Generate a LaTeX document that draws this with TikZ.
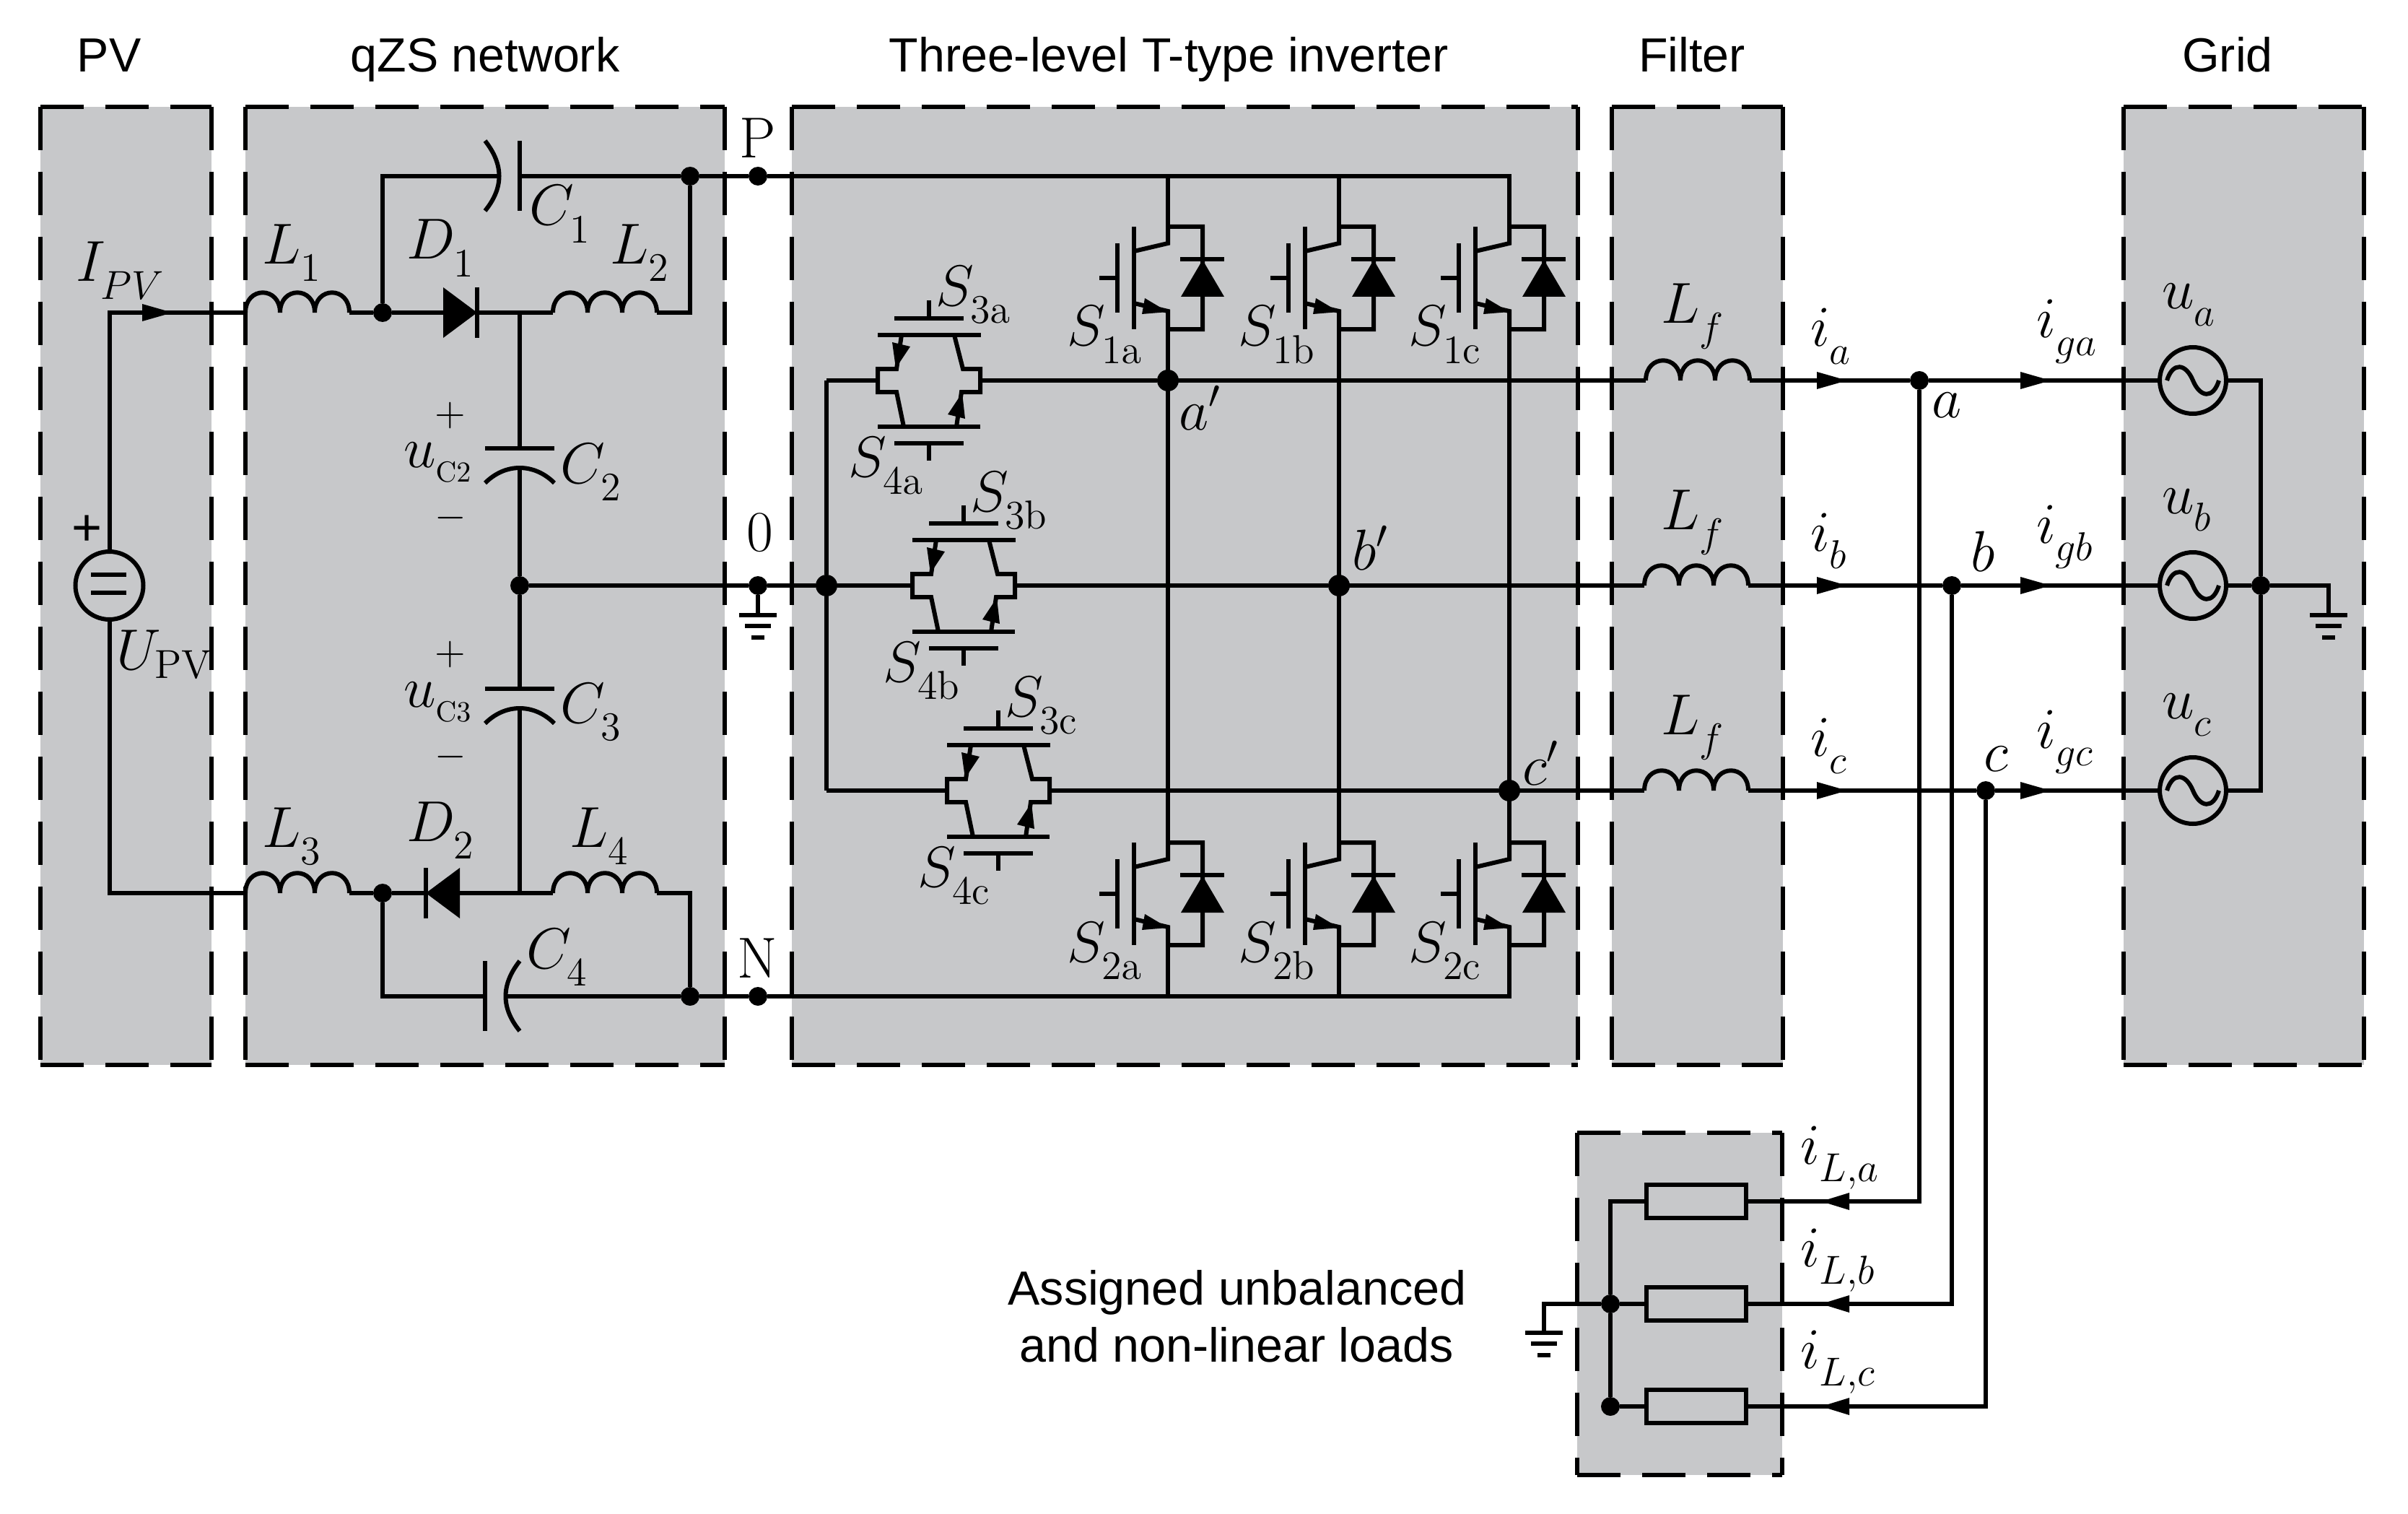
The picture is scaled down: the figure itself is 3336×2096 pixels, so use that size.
\RequirePackage{fix-cm}
\documentclass[tikz,border=0pt]{standalone}
\usepackage[no-math]{fontspec}
\newfontfamily\arial{Liberation Sans}
\definecolor{boxgrey}{RGB}{199,200,202}
\newcommand\dn[1]{\lower3pt\hbox{$\scriptstyle #1$}}
\newcommand\dnn[1]{\lower2pt\hbox{$\scriptscriptstyle #1$}}
\newcommand\gbox[4]{%
  \fill[boxgrey] (#1,#2) rectangle (#3,#4);
  \draw[boxline] (#1,#2) -- (#1,#4);
  \draw[boxline] (#3,#2) -- (#3,#4);
  \draw[boxline] (#1,#2) -- (#3,#2);
  \draw[boxline] (#1,#4) -- (#3,#4);}
\newcommand\lab[4]{\node[lab] (#1) at (#2,#3) {$#4$};}
\tikzset{
  x=0.25pt,y=-0.25pt,
  wire/.style={line width=1.5pt,line join=miter},
  boxline/.style={line width=1.4pt,dash pattern=on 15pt off 7.5pt},
  dot/.style={circle,fill=black,inner sep=0pt,outer sep=0pt,minimum size=6.5pt},
  bigdot/.style={dot,minimum size=7.5pt},
  lab/.style={anchor=base west,xshift=-1pt,inner sep=0pt,outer sep=0pt,font=\fontsize{20}{24}\selectfont},
  rlab/.style={anchor=base,inner sep=0pt,outer sep=0pt,font=\fontsize{20}{24}\selectfont},
  sign/.style={inner sep=0pt,outer sep=0pt,font=\fontsize{14}{16}\selectfont},
  title/.style={anchor=base,inner sep=0pt,outer sep=0pt,font=\arial\fontsize{16.6}{20}\selectfont},
  acsrc/.style={circle,draw,line width=1.5pt,minimum size=23pt,inner sep=0pt,outer sep=0pt},
  res/.style={rectangle,draw,line width=1.5pt,minimum width=34.5pt,minimum height=11.5pt,inner sep=0pt,outer sep=0.75pt},
  ind/.pic={
    \draw[wire] (0,0) .. controls (0,-37) and (48,-37) .. (48,0)
      .. controls (48,-37) and (96,-37) .. (96,0)
      .. controls (96,-37) and (144,-37) .. (144,0);
    \coordinate (-l) at (0,0); \coordinate (-r) at (144,0);},
  diode/.pic={
    \fill (0,-35) -- (47,0) -- (0,35) -- cycle;
    \draw[wire] (47,-35) -- (47,35);
    \coordinate (-a) at (0,0); \coordinate (-k) at (47,0);},
  capv/.pic={
    \draw[wire] (-48,0) -- (48,0);
    \draw[wire] (-48,48) .. controls (-20,20) and (20,20) .. (48,48);
    \coordinate (-a) at (0,0); \coordinate (-b) at (0,28);},
  caph/.pic={
    \draw[wire] (0,-49) -- (0,48);
    \draw[wire] (-48,-49) .. controls (-22,-16) and (-22,16) .. (-48,48);
    \coordinate (-a) at (-29,0); \coordinate (-b) at (0,0);},
  igbt/.pic={
    \draw[wire] (-47,0) -- (-47,142);
    \draw[wire] (-70,23) -- (-70,119);
    \draw[wire] (-95,71) -- (-70,71);
    \draw[wire] (-47,34) -- (0,23) -- (0,0) -- (48,0) -- (48,142) -- (0,142) -- (0,117) -- (-47,106);
    \fill (-32,99) -- (0,118) -- (-36,121) -- cycle;
    \draw[wire] (17,45) -- (78,45);
    \fill (18,97) -- (48,46) -- (78,97) -- cycle;
    \coordinate (-c) at (0,0); \coordinate (-e) at (0,142);},
  tsw/.pic={
    \draw[wire] (-71,-63) -- (72,-63);
    \draw[wire] (-71,64) -- (71,64);
    \draw[wire] (-48,-86) -- (48,-86);
    \draw[wire] (0,-111) -- (0,-86);
    \draw[wire] (-48,87) -- (48,87);
    \draw[wire] (0,87) -- (0,111);
    \draw[wire] (-38,-63) -- (-45,-16) -- (-71,-16) -- (-71,16) -- (-45,16) -- (-35,64);
    \draw[wire] (35,-63) -- (47,-16) -- (71,-16) -- (71,16) -- (45,16) -- (38,64);
    \fill (-51,-53) -- (-26,-47) -- (-46,-17) -- cycle;
    \fill (26,47) -- (50,53) -- (46,17) -- cycle;
    \coordinate (-w) at (-71,0); \coordinate (-e) at (71,0);},
  gnd/.pic={
    \draw[wire] (-26,0) -- (26,0);
    \draw[wire] (-18,15) -- (18,15);
    \draw[wire] (-9,31) -- (9,31);
    \coordinate (-t) at (0,0);},
  tilde/.pic={
    \draw[wire] (-36,0) .. controls (-28,-26) and (-10,-24) .. (0,0) .. controls (10,24) and (28,26) .. (36,0);},
  tipr/.pic={\fill (-42,-12) -- (0,0) -- (-42,12) -- cycle;},
  tipl/.pic={\fill (39,-12) -- (0,0) -- (39,12) -- cycle;},
}
\begin{document}
\begin{tikzpicture}
\useasboundingbox (0,0) rectangle (3336,2096);
% shaded blocks
\gbox{56}{148}{293}{1475}
\gbox{340}{148}{1004}{1475}
\gbox{1097}{148}{2186}{1475}
\gbox{2233}{148}{2470}{1475}
\gbox{2942}{148}{3275}{1475}
\gbox{2185}{1569}{2469}{2043}
% titles
\node[title] (tPV) at (151,100) {PV};
\node[title] (tqZS) at (672,100) {qZS network};
\node[title] (tInv) at (1619,100) {Three-level T-type inverter};
\node[title] (tFil) at (2344,100) {Filter};
\node[title] (tGrid) at (3086,100) {Grid};
\node[title] (tL1) at (1714,1807) {Assigned unbalanced};
\node[title] (tL2) at (1713,1886) {and non-linear loads};
% junctions
\node[dot] (j1) at (530,433) {};
\coordinate (j2) at (720,433);
\node[dot] (jP) at (956,244) {};
\node[dot] (nP) at (1050,244) {};
\node[dot] (j0) at (720,811) {};
\node[dot] (n0) at (1050,811) {};
\node[dot] (j4) at (530,1237) {};
\coordinate (j3) at (720,1237);
\node[dot] (jN) at (956,1380) {};
\node[dot] (nN) at (1050,1380) {};
\node[bigdot] (jbus) at (1145,811) {};
\coordinate (busa) at (1145,527);
\coordinate (busc) at (1145,1095);
\node[bigdot] (ja) at (1618,527) {};
\node[bigdot] (jb) at (1855,811) {};
\node[bigdot] (jc) at (2091,1095) {};
\node[dot] (na) at (2659,527) {};
\node[dot] (nb) at (2704,811) {};
\node[dot] (nc) at (2751,1095) {};
\node[dot] (jg) at (3132,811) {};
\coordinate (ga) at (3132,527);
\coordinate (gc) at (3132,1095);
\node[dot] (lb) at (2231,1806) {};
\node[dot] (lc) at (2231,1948) {};
\coordinate (la) at (2231,1664);
% PV source
\node[acsrc,minimum size=23.5pt] (VS) at (151.5,811) {};
\draw[wire] (126,796) -- (175,796);
\draw[wire] (126,821) -- (175,821);
\node[inner sep=0pt,outer sep=0pt,font=\arial\fontsize{18}{20}\selectfont] (vsp) at (121,735) {+};
% qZS parts
\pic (L1) at (340,433) {ind};
\pic (L2) at (766,433) {ind};
\pic (L3) at (340,1237) {ind};
\pic (L4) at (766,1237) {ind};
\pic (D1) at (614,433) {diode};
\pic[xscale=-1] (D2) at (637,1237) {diode};
\pic (C1) at (720,244) {caph};
\pic (C2) at (720,621) {capv};
\pic (C3) at (720,954) {capv};
\pic[xscale=-1] (C4) at (672,1380) {caph};
\pic (gP) at (1050,852) {gnd};
% qZS wiring
\draw[wire] (VS.north) |- (L1-l);
\draw[wire] (VS.south) |- (L3-l);
\draw[wire] (L1-r) -- (j1) -- (D1-a);
\draw[wire] (D1-k) -- (L2-l);
\draw[wire] (L2-r) -| (jP);
\draw[wire] (j1) |- (C1-a);
\draw[wire] (C1-b) -- (jP) -- (nP);
\draw[wire] (j2) -- (C2-a);
\draw[wire] (C2-b) -- (j0);
\draw[wire] (j0) -- (C3-a);
\draw[wire] (C3-b) -- (j3);
\draw[wire] (L3-r) -- (j4) -- (D2-k);
\draw[wire] (D2-a) -- (L4-l);
\draw[wire] (L4-r) -| (jN);
\draw[wire] (j4) |- (C4-b);
\draw[wire] (C4-a) -- (jN) -- (nN);
\draw[wire] (n0) -- (gP-t);
\draw[wire] (j0) -- (n0) -- (jbus);
% inverter legs
\foreach \n/\x in {a/1618,b/1855,c/2091}{
  \pic (S1\n) at (\x,314) {igbt};
  \pic (S2\n) at (\x,1167) {igbt};
  \draw[wire] (S1\n-e) -- (S2\n-c);
  \draw[wire] (S1\n-c) -- (S1\n-c |- nP);
  \draw[wire] (S2\n-e) -- (S2\n-e |- nN);
}
\draw[wire] (nP) -- (S1a-c |- nP) -- (S1b-c |- nP) -- (S1c-c |- nP) -- (S1c-c);
\draw[wire] (nN) -- (S2a-e |- nN) -- (S2b-e |- nN) -- (S2c-e |- nN) -- (S2c-e);
\draw[wire] (busa) -- (jbus) -- (busc);
% T-branches
\pic (Ta) at (1287,527) {tsw};
\pic (Tb) at (1335,811) {tsw};
\pic (Tc) at (1383,1095) {tsw};
\draw[wire] (busa) -- (Ta-w);
\draw[wire] (jbus) -- (Tb-w);
\draw[wire] (busc) -- (Tc-w);
% filter and grid
\pic (Lfa) at (2280,527) {ind};
\pic (Lfb) at (2278,811) {ind};
\pic (Lfc) at (2278,1095) {ind};
\node[acsrc] (Ua) at (3038,527) {};
\node[acsrc] (Ub) at (3038,811) {};
\node[acsrc] (Uc) at (3038,1095) {};
\pic at (3038,527) {tilde};
\pic at (3038,811) {tilde};
\pic at (3038,1095) {tilde};
\draw[wire] (Ta-e) -- (ja) -- (Lfa-l);
\draw[wire] (Tb-e) -- (jb) -- (Lfb-l);
\draw[wire] (Tc-e) -- (jc) -- (Lfc-l);
\draw[wire] (Lfa-r) -- (na) -- (Ua);
\draw[wire] (Lfb-r) -- (nb) -- (Ub);
\draw[wire] (Lfc-r) -- (nc) -- (Uc);
\draw[wire] (Ua) -- (ga) -- (jg) -- (gc) -- (Uc);
\pic (gG) at (3226,852) {gnd};
\draw[wire] (Ub) -- (jg) -| (gG-t);
\foreach \y in {527,811,1095}{
  \pic at (2559,\y) {tipr};
  \pic at (2841,\y) {tipr};
}
% loads
\node[res] (Ra) at (2350,1664) {};
\node[res] (Rb) at (2350,1806) {};
\node[res] (Rc) at (2350,1948) {};
\draw[wire] (na) |- (Ra);
\draw[wire] (nb) |- (Rb);
\draw[wire] (nc) |- (Rc);
\draw[wire] (Ra) -- (la) -- (lb) -- (lc) -- (Rc);
\draw[wire] (lb) -- (Rb);
\pic (gL) at (2139,1846) {gnd};
\draw[wire] (lb) -| (gL-t);
\pic at (2523,1664) {tipl};
\pic at (2523,1806) {tipl};
\pic at (2523,1948) {tipl};
% input arrow
\pic at (239,433) {tipr};
% labels
\node[rlab] (lP) at (1050,219) {$\mathrm{P}$};
\node[rlab] (l0) at (1053,763) {$\mathrm{0}$};
\node[rlab] (lN) at (1049,1354) {$\mathrm{N}$};
\lab{lI}{109}{390}{I_{\dn{PV}}}
\lab{lU}{165}{927}{U_{\mathrm{PV}}}
\lab{lL1}{367}{366}{L_{\dn{1}}}
\lab{lL2}{849}{366}{L_{\dn{2}}}
\lab{lL3}{367}{1173}{L_{\dn{3}}}
\lab{lL4}{793}{1173}{L_{\dn{4}}}
\lab{lD1}{567}{359}{D_{\dn{1}}}
\lab{lD2}{567}{1165}{D_{\dn{2}}}
\lab{lC1}{737}{312}{C_{\dn{1}}}
\lab{lC2}{780}{669}{C_{\dn{2}}}
\lab{lC3}{780}{1001}{C_{\dn{3}}}
\lab{lC4}{733}{1341}{C_{\dn{4}}}
\lab{luC2}{563}{647}{u_{\dnn{\mathrm{C2}}}}
\lab{luC3}{563}{979}{u_{\dnn{\mathrm{C3}}}}
\node[sign] (p2) at (624,575) {$+$};
\node[sign] (m2) at (624,717) {$-$};
\node[sign] (p3) at (624,906) {$+$};
\node[sign] (m3) at (624,1048) {$-$};
\foreach \n/\x/\t in {a/1618/527,b/1855/811,c/2091/1095}{
  \lab{lS1\n}{\the\numexpr\x-136\relax}{479}{S_{\dn{\mathrm{1\n}}}}
  \lab{lS2\n}{\the\numexpr\x-136\relax}{1332}{S_{\dn{\mathrm{2\n}}}}
}
\foreach \n/\x/\y in {a/1287/527,b/1335/811,c/1383/1095}{
  \lab{lS3\n}{\the\numexpr\x+13\relax}{\the\numexpr\y-103\relax}{S_{\dn{\mathrm{3\n}}}}
  \lab{lS4\n}{\the\numexpr\x-108\relax}{\the\numexpr\y+133\relax}{S_{\dn{\mathrm{4\n}}}}
}
\lab{lap}{1637}{595}{a'}
\lab{lbp}{1877}{789}{b'}
\lab{lcp}{2113}{1087}{c'}
\foreach \n/\yf/\yi/\yg/\yu in {a/448/480/468/427,b/733/763/752/711,c/1017/1047/1036/995}{
  \lab{lLf\n}{2305}{\yf}{L_{\dn{f}}}
  \lab{li\n}{2512}{\yi}{i_{\dn{\n}}}
  \lab{lig\n}{2825}{\yg}{i_{\dn{g\n}}}
  \lab{lu\n}{2999}{\yu}{u_{\dn{\n}}}
}
\lab{la}{2680}{578}{a}
\lab{lb}{2734}{791}{b}
\lab{lc}{2752}{1068}{c}
\lab{liLa}{2498}{1612}{i_{\dn{L,a}}}
\lab{liLb}{2498}{1754}{i_{\dn{L,b}}}
\lab{liLc}{2498}{1895}{i_{\dn{L,c}}}
\end{tikzpicture}
\end{document}
